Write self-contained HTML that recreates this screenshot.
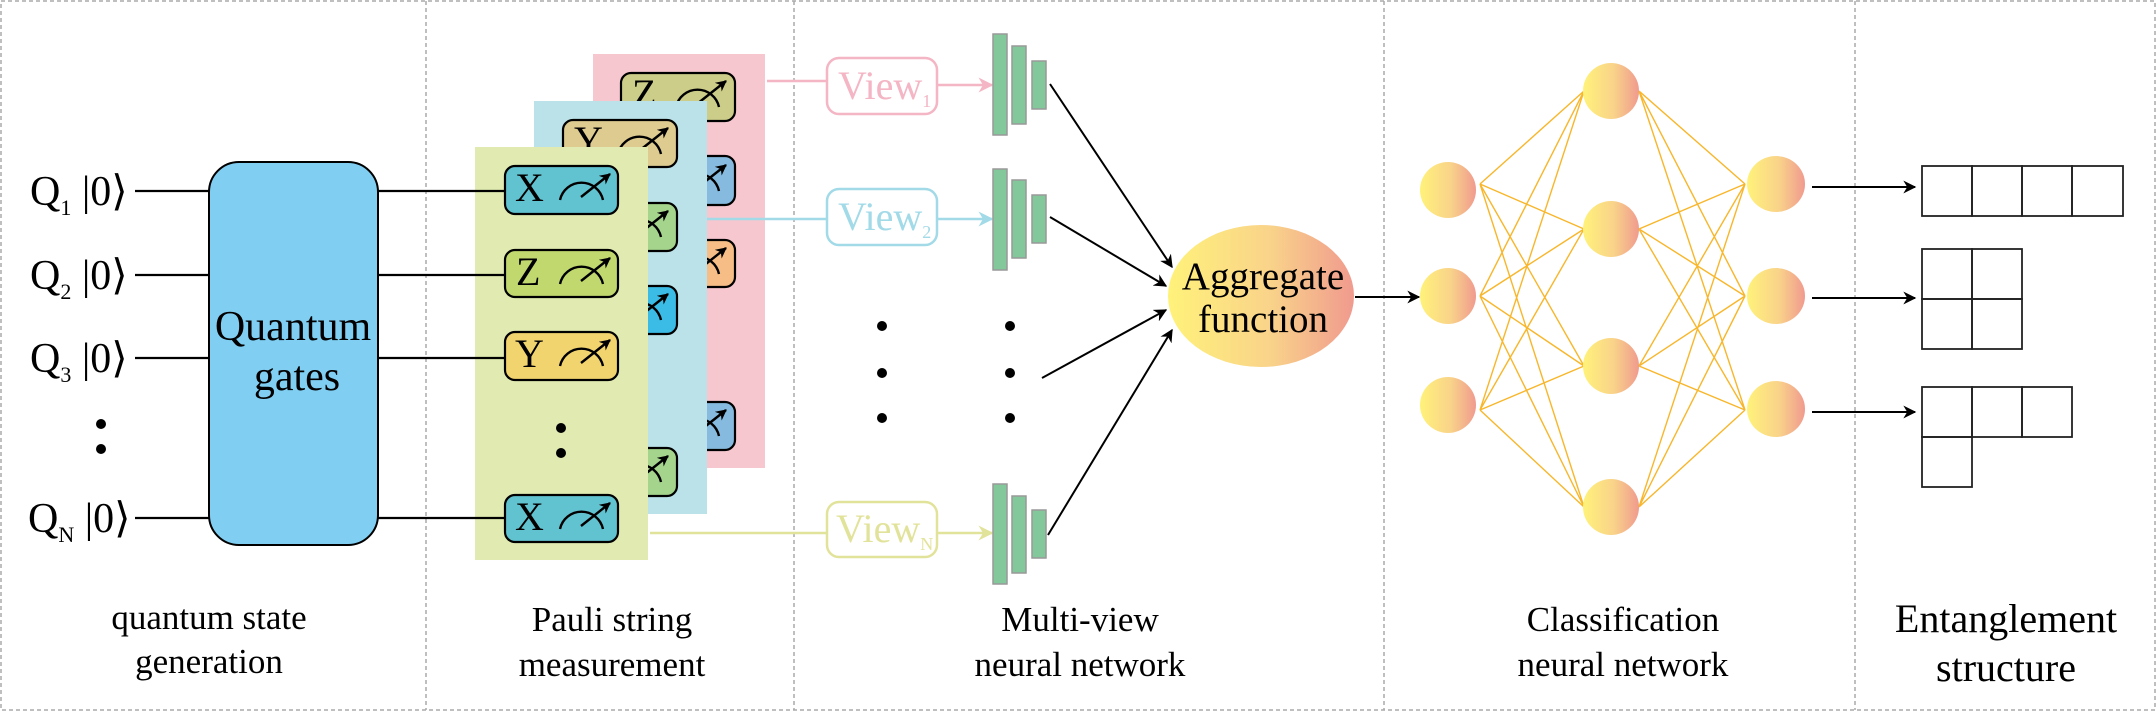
<!DOCTYPE html>
<html><head><meta charset="utf-8"><style>
html,body{margin:0;padding:0;background:#fff}
svg{display:block}
text{font-family:"Liberation Serif",serif}
</style></head><body>
<svg width="2156" height="712" viewBox="0 0 2156 712" xmlns="http://www.w3.org/2000/svg">
<defs>
<linearGradient id="g" x1="0" x2="1" y1="0" y2="0"><stop offset="0" stop-color="#FFF27A"/><stop offset="0.55" stop-color="#F9D38A"/><stop offset="1" stop-color="#F09A8E"/></linearGradient>
<marker id="ah" viewBox="0 0 10 10" refX="9" refY="5" markerWidth="11" markerHeight="11" orient="auto" markerUnits="userSpaceOnUse"><path d="M0,0 L10,5 L0,10 L3,5 z" fill="#000"/></marker>
<marker id="ak" viewBox="0 0 10 10" refX="9" refY="5" markerWidth="13" markerHeight="13" orient="auto" markerUnits="userSpaceOnUse"><path d="M0,0 L10,5 L0,10 L3,5 z" fill="#000"/></marker>
<marker id="ap" viewBox="0 0 10 10" refX="9" refY="5" markerWidth="15" markerHeight="15" orient="auto" markerUnits="userSpaceOnUse"><path d="M0,0 L10,5 L0,10 L3,5 z" fill="#F4B5C4"/></marker>
<marker id="ab" viewBox="0 0 10 10" refX="9" refY="5" markerWidth="15" markerHeight="15" orient="auto" markerUnits="userSpaceOnUse"><path d="M0,0 L10,5 L0,10 L3,5 z" fill="#A2DAE8"/></marker>
<marker id="ay" viewBox="0 0 10 10" refX="9" refY="5" markerWidth="15" markerHeight="15" orient="auto" markerUnits="userSpaceOnUse"><path d="M0,0 L10,5 L0,10 L3,5 z" fill="#E2E39A"/></marker>
<g id="meter"><path d="M55 34 A22 22 0 0 1 98 34" fill="none" stroke="#000" stroke-width="2.4"/><line x1="76" y1="31" x2="105" y2="8" stroke="#000" stroke-width="2.4" marker-end="url(#ah)"/></g>
</defs>
<rect x="1" y="1" width="2154" height="709" fill="none" stroke="#aaa" stroke-width="1.5" stroke-dasharray="4,3"/>
<g stroke="#aaa" stroke-width="1.5" stroke-dasharray="4,3">
<line x1="426" y1="1" x2="426" y2="710"/><line x1="794" y1="1" x2="794" y2="710"/><line x1="1384" y1="1" x2="1384" y2="710"/><line x1="1855" y1="1" x2="1855" y2="710"/></g>

<g font-size="42">
<text x="30" y="205">Q<tspan font-size="22" dy="10">1</tspan><tspan dy="-10"> |0⟩</tspan></text>
<text x="30" y="289">Q<tspan font-size="22" dy="10">2</tspan><tspan dy="-10"> |0⟩</tspan></text>
<text x="30" y="372">Q<tspan font-size="22" dy="10">3</tspan><tspan dy="-10"> |0⟩</tspan></text>
<text x="28" y="532">Q<tspan font-size="22" dy="10">N</tspan><tspan dy="-10"> |0⟩</tspan></text>
</g>
<circle cx="101" cy="424" r="5"/><circle cx="101" cy="449" r="5"/>
<g stroke="#000" stroke-width="2.2">
<line x1="135" y1="191" x2="505" y2="191"/><line x1="135" y1="275" x2="505" y2="275"/>
<line x1="135" y1="358" x2="505" y2="358"/><line x1="135" y1="518" x2="505" y2="518"/></g>
<rect x="209" y="162" width="169" height="383" rx="30" fill="#80CFF3" stroke="#000" stroke-width="2"/>
<text x="293" y="340" font-size="42" text-anchor="middle">Quantum</text>
<text x="297" y="390" font-size="42" text-anchor="middle">gates</text>

<rect x="593" y="54" width="172" height="414" fill="#F6C7CF"/>
<g stroke="#000" stroke-width="2.2">
<rect x="621" y="73" width="114" height="48" rx="10" fill="#CCCD88"/>
<rect x="621" y="156" width="114" height="49" rx="10" fill="#86BBDF"/>
<rect x="621" y="240" width="114" height="47" rx="10" fill="#F6BE86"/>
<rect x="621" y="402" width="114" height="48" rx="10" fill="#86BBDF"/></g>
<text x="632" y="107" font-size="40">Z</text>
<use href="#meter" x="621" y="73"/><use href="#meter" x="621" y="157"/><use href="#meter" x="621" y="240"/><use href="#meter" x="621" y="402"/>
<line x1="767" y1="81" x2="827" y2="81" stroke="#F4B5C4" stroke-width="2.5"/>
<rect x="534" y="101" width="173" height="413" fill="#BAE2E8"/>
<g stroke="#000" stroke-width="2.2">
<rect x="563" y="120" width="114" height="47" rx="10" fill="#DECB8F"/>
<rect x="563" y="203" width="114" height="48" rx="10" fill="#A5D48C"/>
<rect x="563" y="286" width="114" height="48" rx="10" fill="#3BBCE6"/>
<rect x="563" y="448" width="114" height="48" rx="10" fill="#A5D48C"/></g>
<text x="574" y="154" font-size="40">Y</text>
<use href="#meter" x="563" y="120"/><use href="#meter" x="563" y="203"/><use href="#meter" x="563" y="286"/><use href="#meter" x="563" y="448"/>
<line x1="707" y1="219" x2="827" y2="219" stroke="#A2DAE8" stroke-width="2.5"/>
<rect x="475" y="147" width="173" height="413" fill="#E1EBB1"/>
<g stroke="#000" stroke-width="2.2">
<line x1="475" y1="191" x2="505" y2="191"/><line x1="475" y1="275" x2="505" y2="275"/>
<line x1="475" y1="358" x2="505" y2="358"/><line x1="475" y1="518" x2="505" y2="518"/>
<rect x="505" y="166" width="113" height="48" rx="10" fill="#62C3D0"/>
<rect x="505" y="250" width="113" height="47" rx="10" fill="#C0D86E"/>
<rect x="505" y="332" width="113" height="48" rx="10" fill="#F2D46E"/>
<rect x="505" y="495" width="113" height="47" rx="10" fill="#62C3D0"/></g>
<g font-size="40"><text x="515" y="201">X</text><text x="516" y="285">Z</text><text x="515" y="367">Y</text><text x="515" y="530">X</text></g>
<use href="#meter" x="505" y="166"/><use href="#meter" x="505" y="250"/><use href="#meter" x="505" y="332"/><use href="#meter" x="505" y="495"/>
<circle cx="561" cy="428" r="5"/><circle cx="561" cy="453" r="5"/>
<line x1="650" y1="533" x2="827" y2="533" stroke="#E2E39A" stroke-width="2.5"/>

<rect x="827" y="58" width="110" height="56" rx="12" fill="#fff" stroke="#F4B5C4" stroke-width="2.5"/>
<text x="838" y="99" font-size="40" fill="#F4B5C4">View<tspan font-size="18" dy="8">1</tspan></text>
<line x1="937" y1="85" x2="992" y2="85" stroke="#F4B5C4" stroke-width="2.5" marker-end="url(#ap)"/>
<rect x="827" y="189" width="110" height="56" rx="12" fill="#fff" stroke="#A2DAE8" stroke-width="2.5"/>
<text x="838" y="230" font-size="40" fill="#A2DAE8">View<tspan font-size="18" dy="8">2</tspan></text>
<line x1="937" y1="219" x2="992" y2="219" stroke="#A2DAE8" stroke-width="2.5" marker-end="url(#ab)"/>
<rect x="827" y="502" width="110" height="55" rx="12" fill="#fff" stroke="#E2E39A" stroke-width="2.5"/>
<text x="836" y="542" font-size="40" fill="#E2E39A">View<tspan font-size="18" dy="8">N</tspan></text>
<line x1="937" y1="533" x2="992" y2="533" stroke="#E2E39A" stroke-width="2.5" marker-end="url(#ay)"/>
<g fill="#82C89B" stroke="#999" stroke-width="1.5">
<rect x="993" y="34" width="14" height="101"/><rect x="1012" y="46" width="14" height="78"/><rect x="1032" y="61" width="14" height="48"/>
<rect x="993" y="169" width="14" height="101"/><rect x="1012" y="180" width="14" height="78"/><rect x="1032" y="195" width="14" height="48"/>
<rect x="993" y="484" width="14" height="100"/><rect x="1012" y="496" width="14" height="77"/><rect x="1032" y="510" width="14" height="48"/></g>
<g><circle cx="882" cy="326" r="5"/><circle cx="882" cy="373" r="5"/><circle cx="882" cy="418" r="5"/>
<circle cx="1010" cy="326" r="5"/><circle cx="1010" cy="373" r="5"/><circle cx="1010" cy="418" r="5"/></g>
<g stroke="#000" stroke-width="2" marker-end="url(#ak)">
<line x1="1050" y1="84" x2="1172" y2="267"/><line x1="1050" y1="217" x2="1166" y2="286"/>
<line x1="1042" y1="378" x2="1166" y2="310"/><line x1="1048" y1="535" x2="1172" y2="330"/>
<line x1="1355" y1="297" x2="1419" y2="297"/></g>
<ellipse cx="1261" cy="296" rx="93" ry="71" fill="url(#g)"/>
<text x="1263" y="289" font-size="39" text-anchor="middle">Aggregate</text>
<text x="1263" y="332" font-size="39" text-anchor="middle">function</text>

<g stroke="#F8B62A" stroke-width="1.4">
<path d="M1480 184L1584 91M1480 184L1584 229M1480 184L1584 366M1480 184L1584 507
M1480 296L1584 91M1480 296L1584 229M1480 296L1584 366M1480 296L1584 507
M1480 410L1584 91M1480 410L1584 229M1480 410L1584 366M1480 410L1584 507
M1639 91L1745 184M1639 91L1745 296M1639 91L1745 410
M1639 229L1745 184M1639 229L1745 296M1639 229L1745 410
M1639 366L1745 184M1639 366L1745 296M1639 366L1745 410
M1639 507L1745 184M1639 507L1745 296M1639 507L1745 410"/></g>
<g fill="url(#g)">
<ellipse cx="1448" cy="190" rx="28" ry="28"/><ellipse cx="1448" cy="296" rx="28" ry="28"/><ellipse cx="1448" cy="405" rx="28" ry="28"/>
<ellipse cx="1611" cy="91" rx="28" ry="28"/><ellipse cx="1611" cy="229" rx="28" ry="28"/><ellipse cx="1611" cy="366" rx="28" ry="28"/><ellipse cx="1611" cy="507" rx="28" ry="28"/>
<ellipse cx="1776" cy="184" rx="29" ry="28"/><ellipse cx="1776" cy="296" rx="29" ry="28"/><ellipse cx="1776" cy="409" rx="29" ry="28"/></g>
<g stroke="#000" stroke-width="2" marker-end="url(#ak)">
<line x1="1812" y1="187" x2="1915" y2="187"/><line x1="1812" y1="298" x2="1915" y2="298"/><line x1="1812" y1="412" x2="1915" y2="412"/></g>
<g fill="none" stroke="#222" stroke-width="1.8">
<rect x="1922" y="166" width="50" height="50"/><rect x="1972" y="166" width="50" height="50"/><rect x="2022" y="166" width="50" height="50"/><rect x="2072" y="166" width="51" height="50"/>
<rect x="1922" y="249" width="50" height="50"/><rect x="1972" y="249" width="50" height="50"/><rect x="1922" y="299" width="50" height="50"/><rect x="1972" y="299" width="50" height="50"/>
<rect x="1922" y="387" width="50" height="50"/><rect x="1972" y="387" width="50" height="50"/><rect x="2022" y="387" width="50" height="50"/><rect x="1922" y="437" width="50" height="50"/></g>

<g font-size="35" text-anchor="middle">
<text x="209" y="629">quantum state</text><text x="209" y="673">generation</text>
<text x="612" y="631">Pauli string</text><text x="612" y="676">measurement</text>
<text x="1080" y="631">Multi-view</text><text x="1080" y="676">neural network</text>
<text x="1623" y="631">Classification</text><text x="1623" y="676">neural network</text>
</g>
<g font-size="40" text-anchor="middle"><text x="2006" y="632">Entanglement</text><text x="2006" y="681">structure</text></g>
</svg>
</body></html>
